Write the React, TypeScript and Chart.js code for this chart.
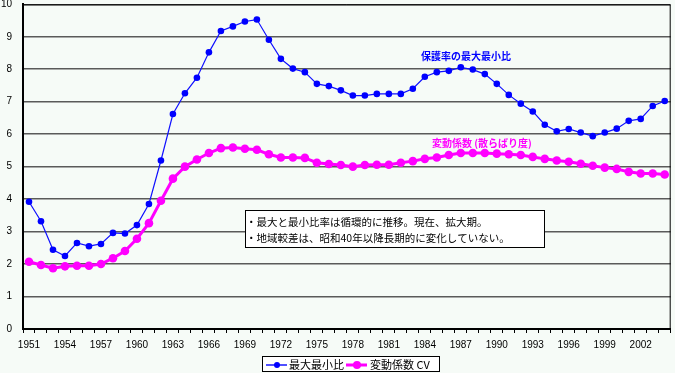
import React, { useEffect, useRef } from "react";
import { Chart, registerables } from "chart.js";

Chart.register(...registerables);

const years: string[] = [];
for (let y = 1951; y <= 2004; y++) years.push(String(y));

const maxMinRatio = [
  3.92, 3.32, 2.44, 2.25, 2.65, 2.55, 2.62, 2.96, 2.94, 3.2,
  3.85, 5.19, 6.62, 7.26, 7.74, 8.52, 9.18, 9.32, 9.47, 9.53,
  8.91, 8.32, 8.02, 7.91, 7.55, 7.48, 7.35, 7.19, 7.19, 7.24,
  7.24, 7.24, 7.4, 7.77, 7.91, 7.95, 8.06, 7.99, 7.85, 7.55,
  7.21, 6.94, 6.7, 6.29, 6.09, 6.16, 6.05, 5.94, 6.05, 6.17,
  6.41, 6.47, 6.87, 7.02,
];

const cvValues = [
  2.07, 1.97, 1.87, 1.93, 1.95, 1.95, 2.0, 2.18, 2.4, 2.78,
  3.26, 3.95, 4.63, 5.0, 5.22, 5.42, 5.57, 5.59, 5.55, 5.52,
  5.38, 5.28, 5.28, 5.27, 5.12, 5.08, 5.05, 5.0, 5.05, 5.06,
  5.06, 5.12, 5.17, 5.24, 5.28, 5.36, 5.42, 5.42, 5.42, 5.4,
  5.38, 5.36, 5.3, 5.24, 5.19, 5.15, 5.09, 5.03, 4.97, 4.93,
  4.84, 4.79, 4.79, 4.76,
];

const seriesNames = ["最大最小比", "変動係数 CV"];
const blueLabel = "保護率の最大最小比";
const pinkLabel = "変動係数 (散らばり度)";
const noteLines = [
  "・最大と最小比率は循環的に推移。現在、拡大期。",
  "・地域較差は、昭和40年以降長期的に変化していない。",
];

const JP = '"Noto Sans CJK JP", "Noto Sans", sans-serif';
const NUM = '"Liberation Sans", Arial, sans-serif';

const overlayPlugin = {
  id: "overlay",
  afterDraw(chart: any) {
    const ctx = chart.ctx;
    const ca = chart.chartArea;
    ctx.save();
    ctx.strokeStyle = "#000";
    ctx.lineWidth = 1;
    ctx.beginPath();
    ctx.moveTo(ca.left, ca.top + 0.5);
    ctx.lineTo(ca.right - 0.5, ca.top + 0.5);
    ctx.lineTo(ca.right - 0.5, ca.bottom);
    ctx.stroke();

    ctx.textBaseline = "middle";
    ctx.textAlign = "left";
    ctx.font = `bold 10px ${JP}`;
    ctx.fillStyle = "#0000ff";
    ctx.fillText(blueLabel, 421, 56);
    ctx.fillStyle = "#ff00ff";
    ctx.fillText(pinkLabel, 432, 143);

    ctx.fillStyle = "#ffffff";
    ctx.fillRect(245, 210, 300, 38);
    ctx.strokeStyle = "#000";
    ctx.strokeRect(245.5, 210.5, 299, 37);
    ctx.fillStyle = "#000";
    ctx.font = `10.5px ${JP}`;
    ctx.fillText(noteLines[0], 246, 222);
    ctx.fillText(noteLines[1], 246, 238);

    ctx.fillStyle = "#ffffff";
    ctx.fillRect(262, 356, 178, 16);
    ctx.strokeStyle = "#000";
    ctx.strokeRect(262.5, 356.5, 177, 15);
    const ly = 365;
    ctx.strokeStyle = "#5050ff";
    ctx.lineWidth = 2;
    ctx.beginPath();
    ctx.moveTo(266, ly);
    ctx.lineTo(287, ly);
    ctx.stroke();
    ctx.fillStyle = "#0000ff";
    ctx.beginPath();
    ctx.arc(277, ly, 3, 0, Math.PI * 2);
    ctx.fill();
    ctx.strokeStyle = "#ff00ff";
    ctx.lineWidth = 3;
    ctx.beginPath();
    ctx.moveTo(346, ly);
    ctx.lineTo(367, ly);
    ctx.stroke();
    ctx.fillStyle = "#ff00ff";
    ctx.beginPath();
    ctx.arc(357, ly, 4, 0, Math.PI * 2);
    ctx.fill();
    ctx.fillStyle = "#000";
    ctx.font = `11px ${JP}`;
    ctx.fillText(seriesNames[0], 289, ly);
    ctx.fillText(seriesNames[1], 370, ly);
    ctx.restore();
  },
};

export default function App() {
  const ref = useRef<HTMLCanvasElement>(null);
  useEffect(() => {
    document.body.style.margin = "0";
    const chart = new Chart(ref.current!, {
      type: "line",
      data: {
        labels: years,
        datasets: [
          {
            label: seriesNames[0],
            data: maxMinRatio,
            borderColor: "#1010ff",
            backgroundColor: "#0000ff",
            borderWidth: 1.2,
            pointRadius: 3.3,
            pointBorderWidth: 0,
            tension: 0,
          },
          {
            label: seriesNames[1],
            data: cvValues,
            borderColor: "#ff00ff",
            backgroundColor: "#ff00ff",
            borderWidth: 3,
            pointRadius: 4.3,
            pointBorderWidth: 0,
            tension: 0,
          },
        ],
      },
      options: {
        animation: false,
        responsive: false,
        layout: { padding: { top: 0, right: 1, bottom: 16, left: 0 } },
        plugins: { legend: { display: false }, tooltip: { enabled: false } },
        scales: {
          x: {
            type: "category",
            offset: true,
            grid: {
              offset: true,
              drawOnChartArea: false,
              drawTicks: true,
              tickLength: 4,
              color: "#000",
            },
            border: { color: "#000", width: 2 },
            ticks: {
              autoSkip: false,
              maxRotation: 0,
              padding: 6,
              color: "#000",
              font: { family: NUM, size: 10 },
              callback: (_v: any, i: number) => (i % 3 === 0 ? years[i] : ""),
            },
          },
          y: {
            min: 0,
            max: 10,
            afterFit: (s: any) => {
              s.width = 23;
            },
            ticks: {
              stepSize: 1,
              padding: 0,
              color: "#000",
              font: { family: NUM, size: 10, lineHeight: 0.6 },
            },
            grid: {
              color: "#5a5a5a",
              lineWidth: 1.5,
              drawTicks: true,
              tickLength: 11,
              tickColor: "rgba(0,0,0,0)",
            },
            border: { color: "#000", width: 2 },
          },
        },
      },
      plugins: [overlayPlugin],
    });
    return () => chart.destroy();
  }, []);
  return (
    <div style={{ width: 675, height: 373, background: "#F6FBF7" }}>
      <canvas ref={ref} width={675} height={373} />
    </div>
  );
}
